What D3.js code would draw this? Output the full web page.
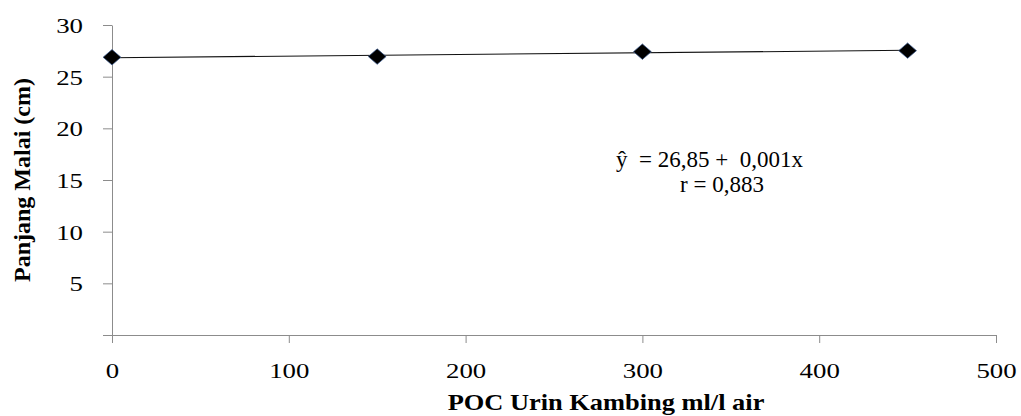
<!DOCTYPE html>
<html>
<head>
<meta charset="utf-8">
<script src="https://cdn.jsdelivr.net/npm/d3@7"></script>
<style>
  html, body { margin: 0; padding: 0; background: #fff; }
  svg { display: block; }
  text { font-family: "Liberation Serif", "Times New Roman", serif; fill: #000; }
</style>
</head>
<body>
<svg id="chart" width="1021" height="416"></svg>
<script>
// ---- data ----
const doses = [0, 150, 300, 450];            // POC Urin Kambing ml/l air
const lengths = [26.88, 26.94, 27.42, 27.52]; // Panjang Malai (cm)
const xTicks = [0, 100, 200, 300, 400, 500];
const yTicks = [0, 5, 10, 15, 20, 25, 30];
const equationText = "ŷ  = 26,85 +  0,001x";
const rText = "r = 0,883";
const xTitle = "POC Urin Kambing ml/l air";
const yTitle = "Panjang Malai (cm)";

const SX = 1.22; // horizontal stretch of tick glyphs as in reference
const svg = d3.select("#chart");
const x = d3.scaleLinear().domain([0, 500]).range([112, 996]);
const y = d3.scaleLinear().domain([0, 30]).range([335, 25]);
const axisColor = "#8c8c8c";

// y axis
const gy = svg.append("g").attr("transform", `translate(${x(0)},0)`)
  .call(d3.axisLeft(y).tickValues(yTicks).tickSize(9).tickSizeOuter(0)
        .tickFormat(d => d === 0 ? "" : d));
gy.select(".domain").attr("stroke", axisColor);
gy.selectAll(".tick line").attr("stroke", axisColor);
gy.selectAll(".tick text")
  .attr("x", -29 / SX).attr("dy", "0.34em")
  .attr("transform", `scale(${SX},1)`)
  .style("font-size", "22px").style("font-family", "Liberation Serif, serif");

// x axis
const gx = svg.append("g").attr("transform", `translate(0,${y(0)})`)
  .call(d3.axisBottom(x).tickValues(xTicks).tickSize(8).tickSizeOuter(0));
gx.select(".domain").attr("stroke", axisColor);
gx.selectAll(".tick line").attr("stroke", axisColor);
gx.selectAll(".tick text")
  .attr("y", 43).attr("dy", 0)
  .attr("transform", `scale(${SX},1)`)
  .style("font-size", "22px").style("font-family", "Liberation Serif, serif");

// regression line (least squares over the data)
const mx = d3.mean(doses), my = d3.mean(lengths);
const slope = d3.sum(doses, (d, i) => (d - mx) * (lengths[i] - my)) / d3.sum(doses, d => (d - mx) ** 2);
const icpt = my - slope * mx;
const xs = d3.extent(doses);
svg.append("line")
  .attr("x1", x(xs[0])).attr("y1", y(icpt + slope * xs[0]))
  .attr("x2", x(xs[1])).attr("y2", y(icpt + slope * xs[1]))
  .attr("stroke", "#111").attr("stroke-width", 1.1);

// markers
const sym = d3.symbol().type(d3.symbolSquare).size(120);
svg.selectAll("path.pt").data(doses).join("path")
  .attr("class", "pt")
  .attr("d", sym)
  .attr("transform", (d, i) => `translate(${x(d)},${y(lengths[i])}) scale(1.15,1) rotate(45)`)
  .attr("fill", "#000").attr("stroke", "#3a5a90").attr("stroke-width", 0.6);

// equation annotation
svg.append("text")
  .attr("transform", `translate(616,167)`)
  .style("font-size", "23px")
  .attr("xml:space", "preserve")
  .text(equationText);
svg.append("text")
  .attr("transform", `translate(722,192)`)
  .attr("text-anchor", "middle")
  .style("font-size", "23px")
  .text(rText);

// axis titles
svg.append("text")
  .attr("transform", `translate(606,410) scale(1.1,1)`)
  .attr("text-anchor", "middle")
  .style("font-size", "24px").style("font-weight", "bold")
  .text(xTitle);
svg.append("text")
  .attr("transform", `translate(30,180) rotate(-90)`)
  .attr("text-anchor", "middle")
  .style("font-size", "24px").style("font-weight", "bold")
  .text(yTitle);
</script>
</body>
</html>
